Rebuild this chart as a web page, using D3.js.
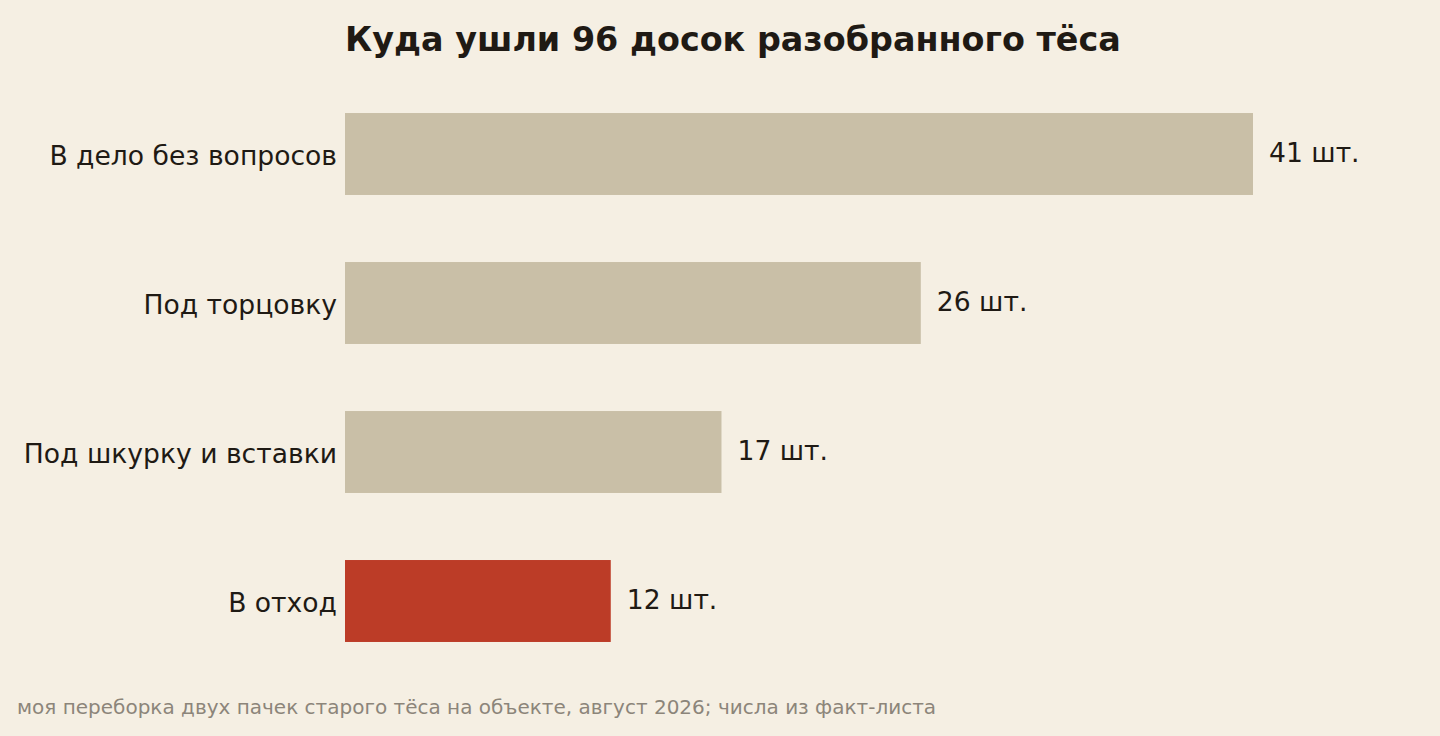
<!DOCTYPE html>
<html>
<head>
<meta charset="utf-8">
<script src="https://cdn.jsdelivr.net/npm/d3@7"></script>
<style>
  html, body { margin: 0; padding: 0; background: #f5efe3; }
  svg { display: block; font-family: "DejaVu Sans", sans-serif; }
</style>
</head>
<body>
<svg id="chart" width="1440" height="736"></svg>
<script>
// values
var categories = ['В дело без вопросов', 'Под торцовку', 'Под шкурку и вставки', 'В отход'];
var boards = [41, 26, 17, 12];
var highlight = [false, false, false, true];
var unitLabel = ' шт.';

var titleText = 'Куда ушли 96 досок разобранного тёса';
var noteText = 'моя переборка двух пачек старого тёса на объекте, август 2026; числа из факт-листа';

var svg = d3.select('#chart');
var left = 345;

var x = d3.scaleLinear()
    .domain([0, 41])
    .range([left, 1253]);

var y = d3.scaleBand()
    .domain(categories)
    .range([79.5, 675.5])
    .paddingInner(0.45)
    .paddingOuter(0.225);

var rows = categories.map(function (c, i) {
    return { name: c, value: boards[i], hot: highlight[i] };
});

svg.append('text')
    .attr('x', left)
    .attr('y', 51)
    .attr('font-size', 33.4)
    .attr('font-weight', 'bold')
    .attr('fill', '#1f1a14')
    .text(titleText);

svg.selectAll('rect.bar')
    .data(rows)
    .enter().append('rect')
    .attr('class', 'bar')
    .attr('x', x(0))
    .attr('y', function (d) { return y(d.name); })
    .attr('width', function (d) { return x(d.value) - x(0); })
    .attr('height', y.bandwidth())
    .attr('fill', function (d) { return d.hot ? '#bc3c27' : '#c9bfa7'; });

svg.selectAll('text.cat')
    .data(rows)
    .enter().append('text')
    .attr('class', 'cat')
    .attr('x', left - 8)
    .attr('y', function (d) { return y(d.name) + y.bandwidth() / 2 + 11; })
    .attr('text-anchor', 'end')
    .attr('font-size', 26.6)
    .attr('fill', '#1f1a14')
    .text(function (d) { return d.name; });

svg.selectAll('text.val')
    .data(rows)
    .enter().append('text')
    .attr('class', 'val')
    .attr('x', function (d) { return x(d.value) + 16; })
    .attr('y', function (d) { return y(d.name) + y.bandwidth() / 2 + 8; })
    .attr('font-size', 26.6)
    .attr('fill', '#1f1a14')
    .text(function (d) { return d.value + unitLabel; });

svg.append('text')
    .attr('x', 17)
    .attr('y', 714)
    .attr('font-size', 20)
    .attr('fill', '#8c857a')
    .text(noteText);
</script>
</body>
</html>
